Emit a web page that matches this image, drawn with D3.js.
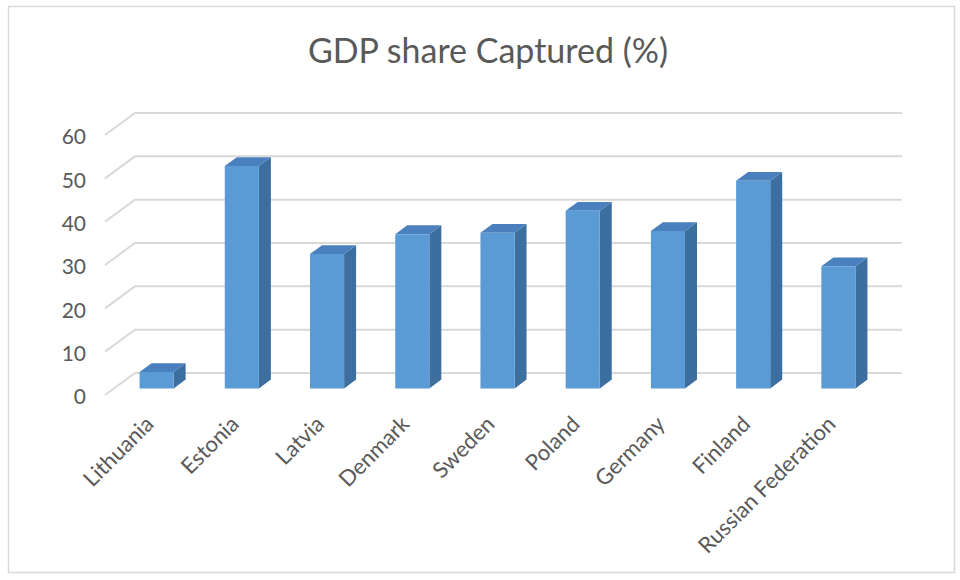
<!DOCTYPE html>
<html>
<head>
<meta charset="utf-8">
<script src="https://cdn.jsdelivr.net/npm/d3@7"></script>
<style>
  body { margin: 0; background: #fff; }
  svg { display: block; font-family: Lato, "Open Sans", sans-serif; }
</style>
</head>
<body>
<div id="chart"></div>
<script>
// data
const countries = ["Lithuania", "Estonia", "Latvia", "Denmark", "Sweden", "Poland", "Germany", "Finland", "Russian Federation"];
const gdpShare = [3.8, 51.3, 31.0, 35.6, 35.9, 41.0, 36.3, 47.9, 28.2];
const yTicks = [0, 10, 20, 30, 40, 50, 60];
const chartTitle = "GDP share Captured (%)";

const width = 960, height = 580;
// 3d depth vector (front plane -> back wall)
const depthX = 30, depthY = -22;
const barFront = 0.3, barBack = 0.7; // bar position in the depth

const svg = d3.select("#chart")
    .append("svg")
    .attr("width", width)
    .attr("height", height);

// chart frame
svg.append("rect")
    .attr("x", 8.5).attr("y", 6.5)
    .attr("width", 946).attr("height", 566)
    .attr("fill", "#fff")
    .attr("stroke", "#d9d9d9")
    .attr("stroke-width", 1.5);

svg.append("text")
    .attr("x", 488)
    .attr("y", 63)
    .attr("text-anchor", "middle")
    .style("font-size", "34px")
    .style("fill", "#595959")
    .text(chartTitle);

// scales (front plane)
const xScale = d3.scaleBand()
    .domain(countries)
    .range([105, 872]);

const yScale = d3.scaleLinear()
    .domain([0, 60])
    .range([395, 135]);

function pt(x, v, d) {
    return [x + d * depthX, yScale(v) + d * depthY];
}

// gridlines on back wall + side wall
const grid = svg.append("g");
yTicks.forEach(t => {
    const a = pt(xScale.range()[0], t, 0);
    const b = pt(xScale.range()[0], t, 1);
    const c = pt(xScale.range()[1], t, 1);
    grid.append("polyline")
        .attr("points", [a, b, c].map(p => p.join(",")).join(" "))
        .attr("fill", "none")
        .attr("stroke", "#d9d9d9")
        .attr("stroke-width", 2);
});

// y axis labels
const yAxis = d3.axisLeft(yScale)
    .tickValues(yTicks)
    .tickSize(0)
    .tickPadding(0);

svg.append("g")
    .attr("transform", "translate(86, 2)")
    .call(yAxis)
    .call(g => g.select(".domain").remove())
    .selectAll("text")
    .style("font-size", "21px")
    .style("font-family", "Lato, 'Open Sans', sans-serif")
    .style("fill", "#595959");

// 3d bars
const barW = xScale.bandwidth() * 0.4;
const bars = svg.append("g")
    .selectAll("g")
    .data(countries.map((c, i) => ({ name: c, value: gdpShare[i] })))
    .enter()
    .append("g");

function poly(points) {
    return points.map(p => p.join(",")).join(" ");
}

// side face
bars.append("polygon")
    .attr("points", d => {
        const xr = xScale(d.name) + xScale.bandwidth() / 2 + barW / 2;
        return poly([pt(xr, 0, barFront), pt(xr, 0, barBack), pt(xr, d.value, barBack), pt(xr, d.value, barFront)]);
    })
    .attr("fill", "#3c6e9f");

// top face
bars.append("polygon")
    .attr("points", d => {
        const xl = xScale(d.name) + xScale.bandwidth() / 2 - barW / 2;
        const xr = xl + barW;
        return poly([pt(xl, d.value, barFront), pt(xr, d.value, barFront), pt(xr, d.value, barBack), pt(xl, d.value, barBack)]);
    })
    .attr("fill", "#4a80bd");

// front face
bars.append("polygon")
    .attr("points", d => {
        const xl = xScale(d.name) + xScale.bandwidth() / 2 - barW / 2;
        const xr = xl + barW;
        return poly([pt(xl, 0, barFront), pt(xr, 0, barFront), pt(xr, d.value, barFront), pt(xl, d.value, barFront)]);
    })
    .attr("fill", "#5b9bd5");

// x axis labels
const xAxis = d3.axisBottom(xScale)
    .tickSize(0)
    .tickPadding(0);

svg.append("g")
    .attr("transform", "translate(2, 420)")
    .call(xAxis)
    .call(g => g.select(".domain").remove())
    .selectAll("text")
    .attr("x", 0)
    .attr("y", 0)
    .attr("dy", "0.35em")
    .attr("transform", "rotate(-45)")
    .attr("text-anchor", "end")
    .style("font-size", "22px")
    .style("font-family", "Lato, 'Open Sans', sans-serif")
    .style("fill", "#595959");
</script>
</body>
</html>
